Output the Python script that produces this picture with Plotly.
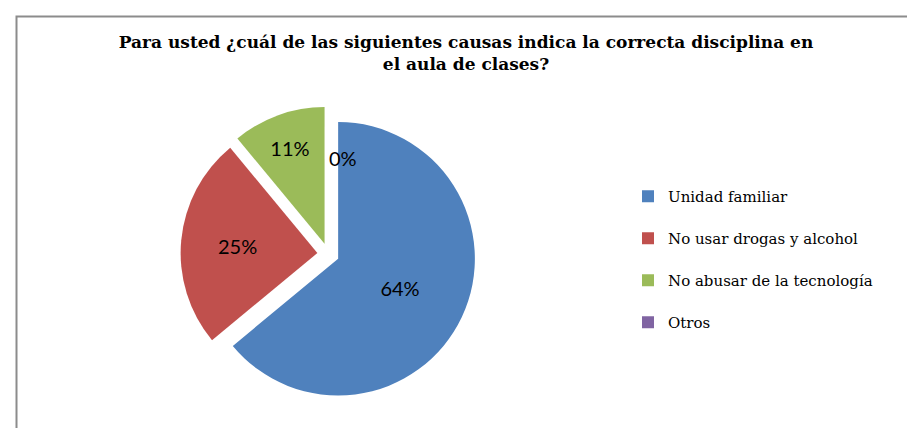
import plotly.graph_objects as go

categories = ["Unidad familiar", "No usar drogas y alcohol", "No abusar de la tecnología", "Otros"]
values = [64, 25, 11, 0]
colors = ["#4F81BD", "#C0504D", "#9BBB59", "#8064A2"]
title_text = "Para usted ¿cuál de las siguientes causas indica la correcta disciplina en<br>el aula de clases?"

W, H = 915, 428

fig = go.Figure()
fig.add_trace(go.Pie(
    labels=[c + "<br> " for c in categories],
    values=values,
    sort=False,
    direction="clockwise",
    rotation=0,
    pull=[0.08, 0.08, 0.08, 0.08],
    marker=dict(colors=colors, line=dict(color="white", width=0)),
    textinfo="percent",
    texttemplate="%{percent:.0%}",
    textposition="inside",
    insidetextorientation="horizontal",
    textfont=dict(family="Lato, Liberation Sans, sans-serif", size=20, color="black"),
    hoverinfo="percent",
    showlegend=True,
    domain=dict(x=[0.06, 0.64], y=[0.08, 0.77]),
))

fig.add_annotation(
    x=335 / W, y=1 - 150 / H, xref="paper", yref="paper",
    text="0%", showarrow=False,
    font=dict(family="Lato, Liberation Sans, sans-serif", size=20, color="black"),
)

fig.add_shape(
    type="rect", xref="paper", yref="paper",
    x0=8.5 / W, x1=1.05, y0=-0.05, y1=1 - 8.5 / H,
    line=dict(color="#8c8c8c", width=2), fillcolor="rgba(0,0,0,0)",
)

fig.update_layout(
    width=W, height=H,
    margin=dict(l=0, r=0, t=0, b=0),
    paper_bgcolor="white",
    plot_bgcolor="white",
    title=dict(
        text=title_text,
        x=458 / W, xanchor="center",
        y=1 - 40 / H, yanchor="top",
        font=dict(family="DejaVu Serif, serif", size=17, color="black", weight="bold"),
    ),
    legend=dict(
        x=620 / W, xanchor="left",
        y=1 - 172 / H, yanchor="top",
        font=dict(family="DejaVu Serif, serif", size=15, color="black"),
        valign="top",
        itemwidth=30,
        bgcolor="rgba(0,0,0,0)",
    ),
)

fig.write_html("out.html")
